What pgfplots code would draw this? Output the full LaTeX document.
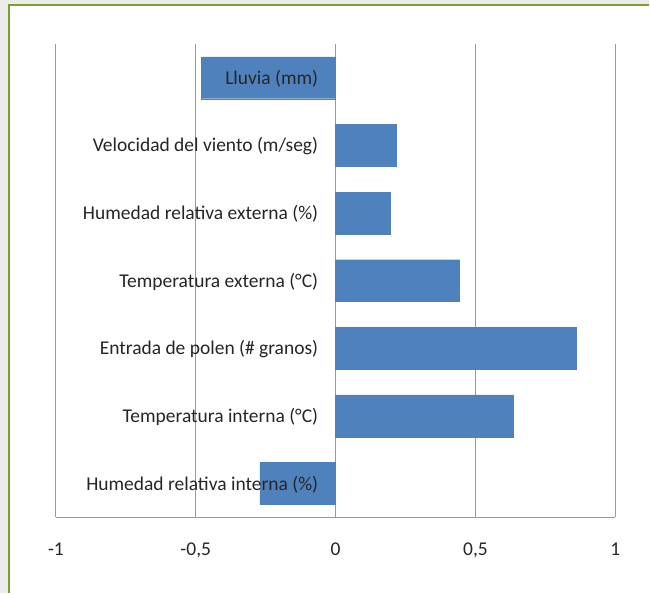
\documentclass[border=0pt]{standalone}
\usepackage{fontspec}
\setmainfont{Carlito}
\usepackage{pgfplots}
\pgfplotsset{compat=1.18}
\definecolor{barblue}{HTML}{4F81BD}
\definecolor{gridgray}{HTML}{9A9A9A}
\definecolor{framegreen}{HTML}{7AA032}
\definecolor{bggray}{HTML}{ECECEC}
\begin{document}
\begin{tikzpicture}[x=1pt,y=1pt]
\fill[bggray] (0,0) rectangle (650,594);
\fill[white] (9,0) rectangle (650,589);
\draw[framegreen,line width=1.5pt] (9,0) -- (9,589) -- (650,589);
\begin{axis}[
  at={(56pt,76pt)}, anchor=south west,
  scale only axis, width=560pt, height=474pt,
  xbar, bar width=0.62,
  xmin=-1, xmax=1, ymin=-0.5, ymax=6.5,
  axis y line=none,
  axis x line*=bottom,
  x axis line style={gridgray, line width=1pt},
  xtick={-1,-0.5,0,0.5,1},
  xticklabels={-1,{-0,5},0,{0,5},1},
  xtick style={draw=none},
  xmajorgrids, major grid style={gridgray, line width=1pt},
  xticklabel style={font=\fontsize{19.5}{23}\selectfont, text=black!85, yshift=-22pt},
  clip=false,
]
\addplot[fill=barblue, draw=barblue] coordinates {
 (-0.271,0) (0.636,1) (0.861,2) (0.443,3) (0.196,4) (0.218,5) (-0.479,6)
};
\begin{scope}[every node/.style={anchor=east, font=\fontsize{19.5}{23}\selectfont, text=black!85, yshift=-1pt}]
\node at (axis cs:-0.05,6) {Lluvia (mm)};
\node at (axis cs:-0.05,5) {Velocidad del viento (m/seg)};
\node at (axis cs:-0.05,4) {Humedad relativa externa (\%)};
\node at (axis cs:-0.05,3) {Temperatura externa (°C)};
\node at (axis cs:-0.05,2) {Entrada de polen (\# granos)};
\node at (axis cs:-0.05,1) {Temperatura interna (°C)};
\node at (axis cs:-0.05,0) {Humedad relativa interna (\%)};
\end{scope}
\end{axis}
\end{tikzpicture}
\end{document}
